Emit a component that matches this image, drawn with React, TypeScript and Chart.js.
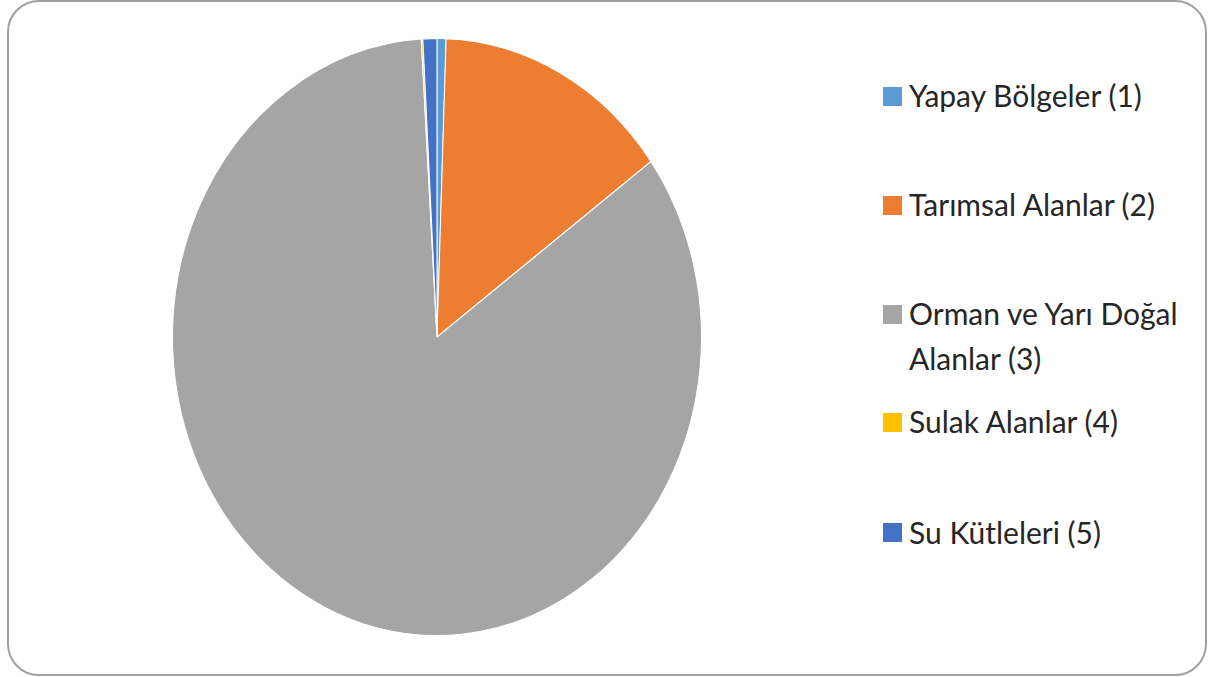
import React, { useEffect, useRef } from "react";
import { Chart, registerables } from "chart.js";

Chart.register(...registerables);

const categories: string[] = [
  "Yapay Bölgeler (1)",
  "Tarımsal Alanlar (2)",
  "Orman ve Yarı Doğal Alanlar (3)",
  "Sulak Alanlar (4)",
  "Su Kütleleri (5)",
];
const shares: number[] = [0.55, 14.45, 84.05, 0.1, 0.85];
const colors: string[] = ["#5B9BD5", "#ED7D31", "#A5A5A5", "#FFC000", "#4472C4"];

// layout constants
const SCALE_Y = 298.5 / 264.5;
const LEGEND_CENTERS = [96, 205, 314, 422, 532.5];
const FONT = "Lato, 'Open Sans', sans-serif";
const FONT_SIZE = 30;
const LINE_H = 45;

const ellipsePlugin = {
  id: "ellipse",
  beforeDatasetsDraw(chart: any) {
    const arc = chart.getDatasetMeta(0).data[0];
    if (!arc) return;
    const ctx = chart.ctx;
    ctx.save();
    ctx.translate(arc.x, arc.y);
    ctx.scale(1, SCALE_Y);
    ctx.translate(-arc.x, -arc.y);
  },
  afterDatasetsDraw(chart: any) {
    chart.ctx.restore();
  },
};

export default function App() {
  const ref = useRef<HTMLCanvasElement | null>(null);
  useEffect(() => {
    if (!ref.current) return;
    const chart = new Chart(ref.current, {
      type: "pie",
      data: {
        labels: categories,
        datasets: [
          {
            data: shares,
            backgroundColor: colors,
            borderColor: "#ffffff",
            borderWidth: 1,
          },
        ],
      },
      options: {
        animation: false,
        responsive: false,
        devicePixelRatio: 1,
        layout: { padding: { top: 72, bottom: 75, left: 0, right: 0 } },
        plugins: {
          legend: { display: false },
          tooltip: { enabled: false },
        },
      },
      plugins: [ellipsePlugin],
    });
    return () => chart.destroy();
  }, []);

  return (
    <div
      style={{
        position: "fixed",
        left: 0,
        top: 0,
        width: 1208,
        height: 677,
        background: "#fff",
        overflow: "hidden",
      }}
    >
      <div
        style={{
          position: "absolute",
          left: 7,
          top: 0,
          width: 1200,
          height: 676,
          boxSizing: "border-box",
          border: "2px solid #a0a0a0",
          borderRadius: 32,
        }}
      />
      <canvas
        ref={ref}
        width={874}
        height={677}
        style={{ position: "absolute", left: 0, top: 0, width: 874, height: 677 }}
      />
      {categories.map((c, i) => (
        <React.Fragment key={c}>
          <div
            style={{
              position: "absolute",
              left: 883,
              top: LEGEND_CENTERS[i] - 9.5,
              width: 19,
              height: 19,
              background: colors[i],
            }}
          />
          <div
            style={{
              position: "absolute",
              left: 909,
              top: LEGEND_CENTERS[i] - 23,
              width: 285,
              fontFamily: FONT,
              fontSize: FONT_SIZE,
              lineHeight: LINE_H + "px",
              color: "#262626",
            }}
          >
            {c}
          </div>
        </React.Fragment>
      ))}
    </div>
  );
}
